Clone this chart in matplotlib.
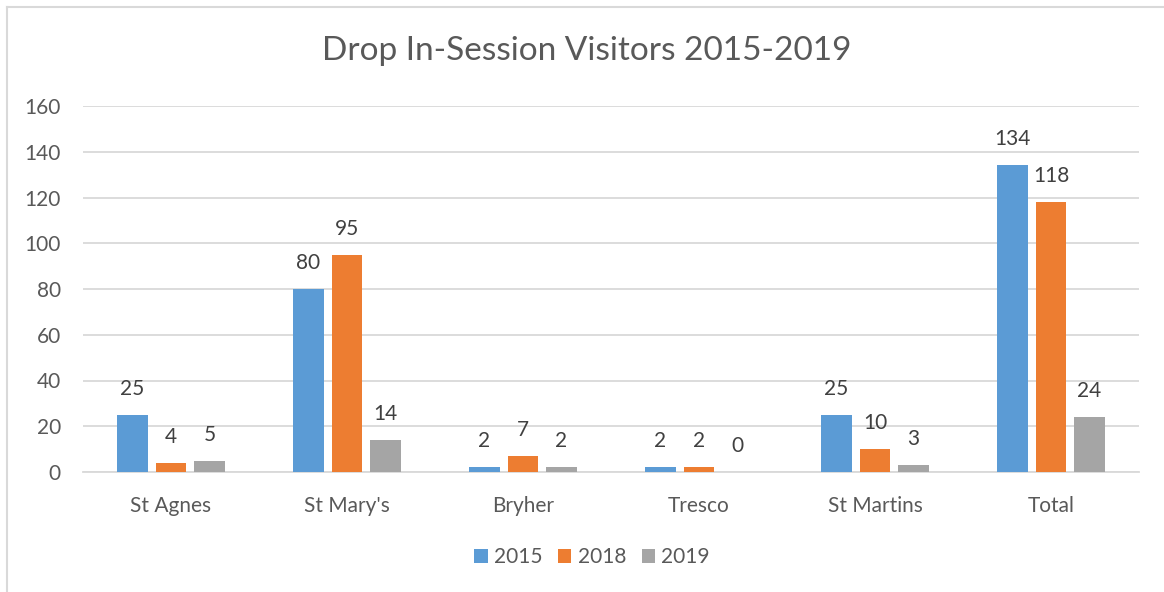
import matplotlib
matplotlib.use("Agg")
import matplotlib.pyplot as plt
import numpy as np

categories = ["St Agnes", "St Mary's", "Bryher", "Tresco", "St Martins", "Total"]
series_names = ["2015", "2018", "2019"]
v2015 = [25, 80, 2, 2, 25, 134]
v2018 = [4, 95, 7, 2, 10, 118]
v2019 = [5, 14, 2, 0, 3, 24]
yticks = [0, 20, 40, 60, 80, 100, 120, 140, 160]

colors = ["#5B9BD5", "#ED7D31", "#A5A5A5"]
text_color = "#595959"
plt.rcParams['font.family'] = ['Lato', 'DejaVu Sans']

W, H = 1164, 592
fig = plt.figure(figsize=(W / 100, H / 100), dpi=100)
ax = fig.add_axes([83 / W, 1 - 472 / H, (1139 - 83) / W, (472 - 106) / H])

x = np.arange(len(categories))
bw = 0.173
step = 0.219
data = [v2015, v2018, v2019]
for i, (vals, name, c) in enumerate(zip(data, series_names, colors)):
    pos = x + (i - 1) * step
    ax.bar(pos, vals, width=bw, color=c, label=name, zorder=3)
    for xp, v in zip(pos, vals):
        ax.text(xp, v + 7, str(v), ha='center', va='bottom', fontsize=15,
                color="#404040", zorder=4)

ax.set_xlim(-0.5, len(categories) - 0.5)
ax.set_ylim(0, 160)
ax.set_yticks(yticks)
ax.set_xticks(x)
ax.set_xticklabels(categories)
ax.yaxis.grid(True, color="#D9D9D9", linewidth=1.3, zorder=0)
ax.tick_params(axis='both', length=0, labelsize=15, labelcolor=text_color)
ax.tick_params(axis='y', pad=16)
ax.tick_params(axis='x', pad=17)
for s in ['top', 'right', 'left']:
    ax.spines[s].set_visible(False)
ax.spines['bottom'].set_color("#D9D9D9")
ax.spines['bottom'].set_linewidth(1.3)

fig.text(587 / W, 1 - 51 / H, "Drop In-Session Visitors 2015-2019", ha='center',
         va='center', fontsize=24, color=text_color)

leg = fig.legend(loc='center', bbox_to_anchor=(592 / W, 1 - 557 / H), ncol=3,
                 frameon=False, fontsize=15, handlelength=0.65, handleheight=0.65,
                 columnspacing=0.75, handletextpad=0.3)
for t in leg.get_texts():
    t.set_color(text_color)

# chart frame
fig.add_artist(plt.Line2D([7 / W, 7 / W], [0, 1 - 7 / H], transform=fig.transFigure,
                          color="#D9D9D9", linewidth=1.5))
fig.add_artist(plt.Line2D([7 / W, 1], [1 - 7 / H, 1 - 7 / H], transform=fig.transFigure,
                          color="#D9D9D9", linewidth=1.5))

fig.savefig("out.png", dpi=100, facecolor="white")
